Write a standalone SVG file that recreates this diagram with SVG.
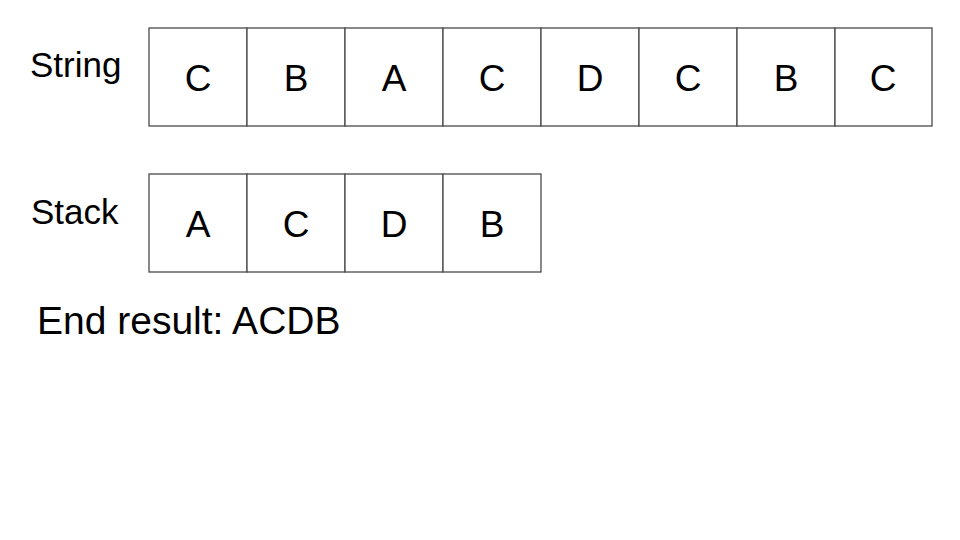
<svg xmlns="http://www.w3.org/2000/svg" width="960" height="540" viewBox="0 0 960 540">
<style>
.cell{fill:#fff;stroke:#4a4a4a;stroke-width:1.3}
.lbl{font-family:"Liberation Sans",Arial,sans-serif;font-size:35px;fill:#000}
.ch{font-family:"Liberation Sans",Arial,sans-serif;font-size:37px;fill:#000;text-anchor:middle}
.res{font-family:"Liberation Sans",Arial,sans-serif;font-size:39px;fill:#000}
</style>
<rect width="960" height="540" fill="#fff"/>
<text class="lbl" x="30" y="77">String</text>
<text class="lbl" x="31" y="224">Stack</text>
<g id="string">
<g id="s0"><rect class="cell" x="149" y="28" width="98" height="98"/><text class="ch" x="198" y="91">C</text></g>
<g id="s1"><rect class="cell" x="247" y="28" width="98" height="98"/><text class="ch" x="296" y="91">B</text></g>
<g id="s2"><rect class="cell" x="345" y="28" width="98" height="98"/><text class="ch" x="394" y="91">A</text></g>
<g id="s3"><rect class="cell" x="443" y="28" width="98" height="98"/><text class="ch" x="492" y="91">C</text></g>
<g id="s4"><rect class="cell" x="541" y="28" width="98" height="98"/><text class="ch" x="590" y="91">D</text></g>
<g id="s5"><rect class="cell" x="639" y="28" width="98" height="98"/><text class="ch" x="688" y="91">C</text></g>
<g id="s6"><rect class="cell" x="737" y="28" width="98" height="98"/><text class="ch" x="786" y="91">B</text></g>
<g id="s7"><rect class="cell" x="835" y="28" width="97" height="98"/><text class="ch" x="883" y="91">C</text></g>
</g>
<g id="stack">
<g id="k0"><rect class="cell" x="149" y="174" width="98" height="98"/><text class="ch" x="198" y="237">A</text></g>
<g id="k1"><rect class="cell" x="247" y="174" width="98" height="98"/><text class="ch" x="296" y="237">C</text></g>
<g id="k2"><rect class="cell" x="345" y="174" width="98" height="98"/><text class="ch" x="394" y="237">D</text></g>
<g id="k3"><rect class="cell" x="443" y="174" width="98" height="98"/><text class="ch" x="492" y="237">B</text></g>
</g>
<g id="connectors"/>
<text class="res" x="37" y="334">End result: ACDB</text>
</svg>
